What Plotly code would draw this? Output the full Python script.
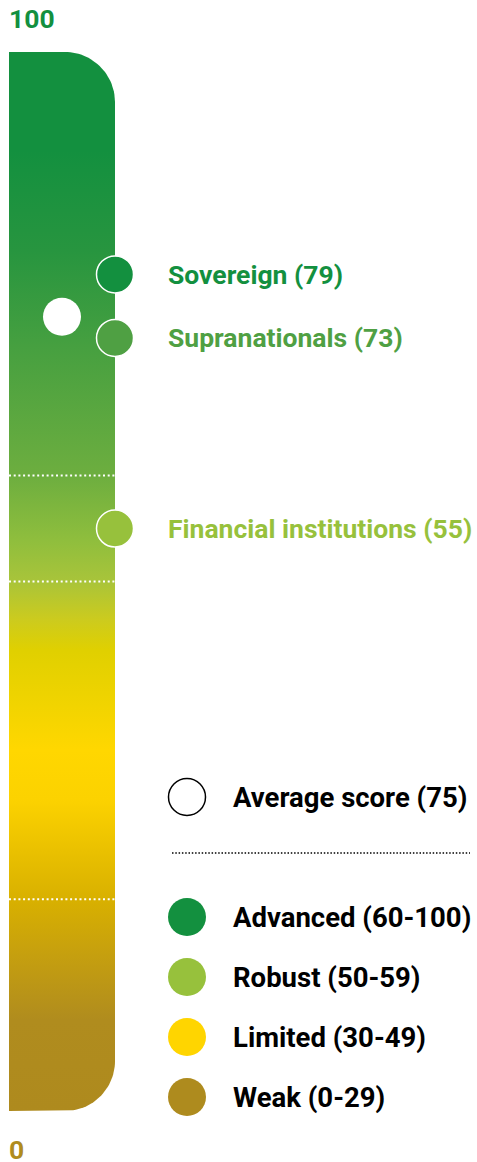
import numpy as np
import plotly.graph_objects as go

# ---- data ----
categories = ["Sovereign", "Supranationals", "Financial institutions"]
scores = [79, 73, 55]
category_colors = ["#13903f", "#4fa043", "#97c13c"]
average_score = 75

band_labels = ["Advanced (60-100)", "Robust (50-59)", "Limited (30-49)", "Weak (0-29)"]
band_colors = ["#13903f", "#97c13c", "#ffd500", "#ae8b1e"]
divider_values = [60, 50, 20]
axis_ticks = [100, 0]
axis_tick_colors = ["#13903f", "#b08c1e"]

gradient_stops = [
    (0.0, "#ae8a1e"), (0.086, "#b08c1e"), (0.143, "#c49e10"), (0.199, "#d8b000"),
    (0.294, "#fcd200"), (0.341, "#ffd700"), (0.435, "#e0d000"), (0.464, "#cccb1e"),
    (0.501, "#a8c43a"), (0.539, "#8fbe3d"), (0.60, "#6dae3f"), (0.719, "#47a040"),
    (0.813, "#27953f"), (0.907, "#13903f"), (1.0, "#13903f"),
]

# ---- layout geometry (pixels) ----
W, H = 477, 1162
top_px, bot_px = 52, 1111
ppu = (bot_px - top_px) / 100.0
y_lo = -(H - bot_px) / ppu
y_hi = 100 + top_px / ppu
bar_x0, bar_x1 = 9, 115
bar_mid = (bar_x0 + bar_x1) / 2
r_px = 50
r_y = r_px / ppu
FONT = "Roboto"
FS_CAT = 26.5
FS_LEG = 27.5

# rounded bar outline
t = np.linspace(0, np.pi / 2, 30)
bx = [bar_x0, bar_x1 - r_px]
by = [0, 0]
bx += list(bar_x1 - r_px + r_px * np.sin(t))
by += list(r_y - r_y * np.cos(t))
bx += list(bar_x1 - r_px + r_px * np.cos(t))
by += list(100 - r_y + r_y * np.sin(t))
bx += [bar_x0, bar_x0]
by += [100, 0]

fig = go.Figure()
fig.add_trace(go.Scatter(
    x=bx, y=by, mode="lines", line=dict(width=0), fill="toself",
    fillgradient=dict(type="vertical", colorscale=[[s, c] for s, c in gradient_stops],
                      start=0, stop=100),
    hoverinfo="skip", showlegend=False))

# divider lines
for v in divider_values:
    fig.add_shape(type="line", xref="x", yref="y", x0=bar_x0, x1=bar_x1, y0=v, y1=v,
                  line=dict(color="white", width=2, dash="2px,2.7px"), layer="above")

# average marker
fig.add_trace(go.Scatter(x=[bar_mid], y=[average_score], mode="markers",
                         marker=dict(size=38, color="white", line=dict(width=0)),
                         hoverinfo="skip", showlegend=False))

# category markers
fig.add_trace(go.Scatter(x=[bar_x1] * len(scores), y=scores, mode="markers",
                         marker=dict(size=37, color=category_colors,
                                     line=dict(width=1.5, color="white")),
                         hoverinfo="skip", showlegend=False))

for cat, val, col in zip(categories, scores, category_colors):
    fig.add_annotation(x=166, y=val, xref="x", yref="y", text=f"{cat} ({val})",
                       showarrow=False, xanchor="left", yanchor="middle",
                       font=dict(family=FONT, size=FS_CAT, color=col, weight="bold"))

# axis end labels
for v, col in zip(axis_ticks, axis_tick_colors):
    py = 18 if v == 100 else 1148.5
    fig.add_annotation(x=bar_x0 - 2, y=py, xref="x", yref="y2", text=str(v),
                       showarrow=False, xanchor="left", yanchor="middle", height=26,
                       font=dict(family=FONT, size=FS_CAT, color=col, weight="bold"))

# ---- legend (pixel axis y2) ----
leg_cx, leg_tx = 187, 231
avg_row = 797
sep_row = 853
band_row0, band_step = 917, 60

fig.add_trace(go.Scatter(x=[leg_cx], y=[avg_row], yaxis="y2", mode="markers",
                         marker=dict(size=37, color="white", line=dict(width=1.5, color="black")),
                         hoverinfo="skip", showlegend=False))
fig.add_annotation(x=leg_tx, y=avg_row, xref="x", yref="y2",
                   text=f"Average score ({average_score})", showarrow=False,
                   xanchor="left", yanchor="middle",
                   font=dict(family=FONT, size=FS_LEG, color="black", weight="bold"))
fig.add_shape(type="line", xref="x", yref="y2", x0=172, x1=470, y0=sep_row, y1=sep_row,
              line=dict(color="black", width=1.5, dash="1.5px,1.8px"))

band_rows = [band_row0 + i * band_step for i in range(len(band_labels))]
fig.add_trace(go.Scatter(x=[leg_cx] * len(band_rows), y=band_rows, yaxis="y2", mode="markers",
                         marker=dict(size=38, color=band_colors, line=dict(width=0)),
                         hoverinfo="skip", showlegend=False))
for lab, ry in zip(band_labels, band_rows):
    fig.add_annotation(x=leg_tx, y=ry, xref="x", yref="y2", text=lab, showarrow=False,
                       xanchor="left", yanchor="middle",
                       font=dict(family=FONT, size=FS_LEG, color="black", weight="bold"))

fig.update_layout(
    width=W, height=H, margin=dict(l=0, r=0, t=0, b=0),
    paper_bgcolor="white", plot_bgcolor="white", showlegend=False,
    xaxis=dict(range=[0, W], visible=False, fixedrange=True),
    yaxis=dict(range=[y_lo, y_hi], visible=False, fixedrange=True),
    yaxis2=dict(range=[H, 0], overlaying="y", visible=False, fixedrange=True),
)

fig.write_html("out.html", config={"displayModeBar": False},
               post_script="document.body.style.margin='0';document.body.style.overflow='hidden';")
